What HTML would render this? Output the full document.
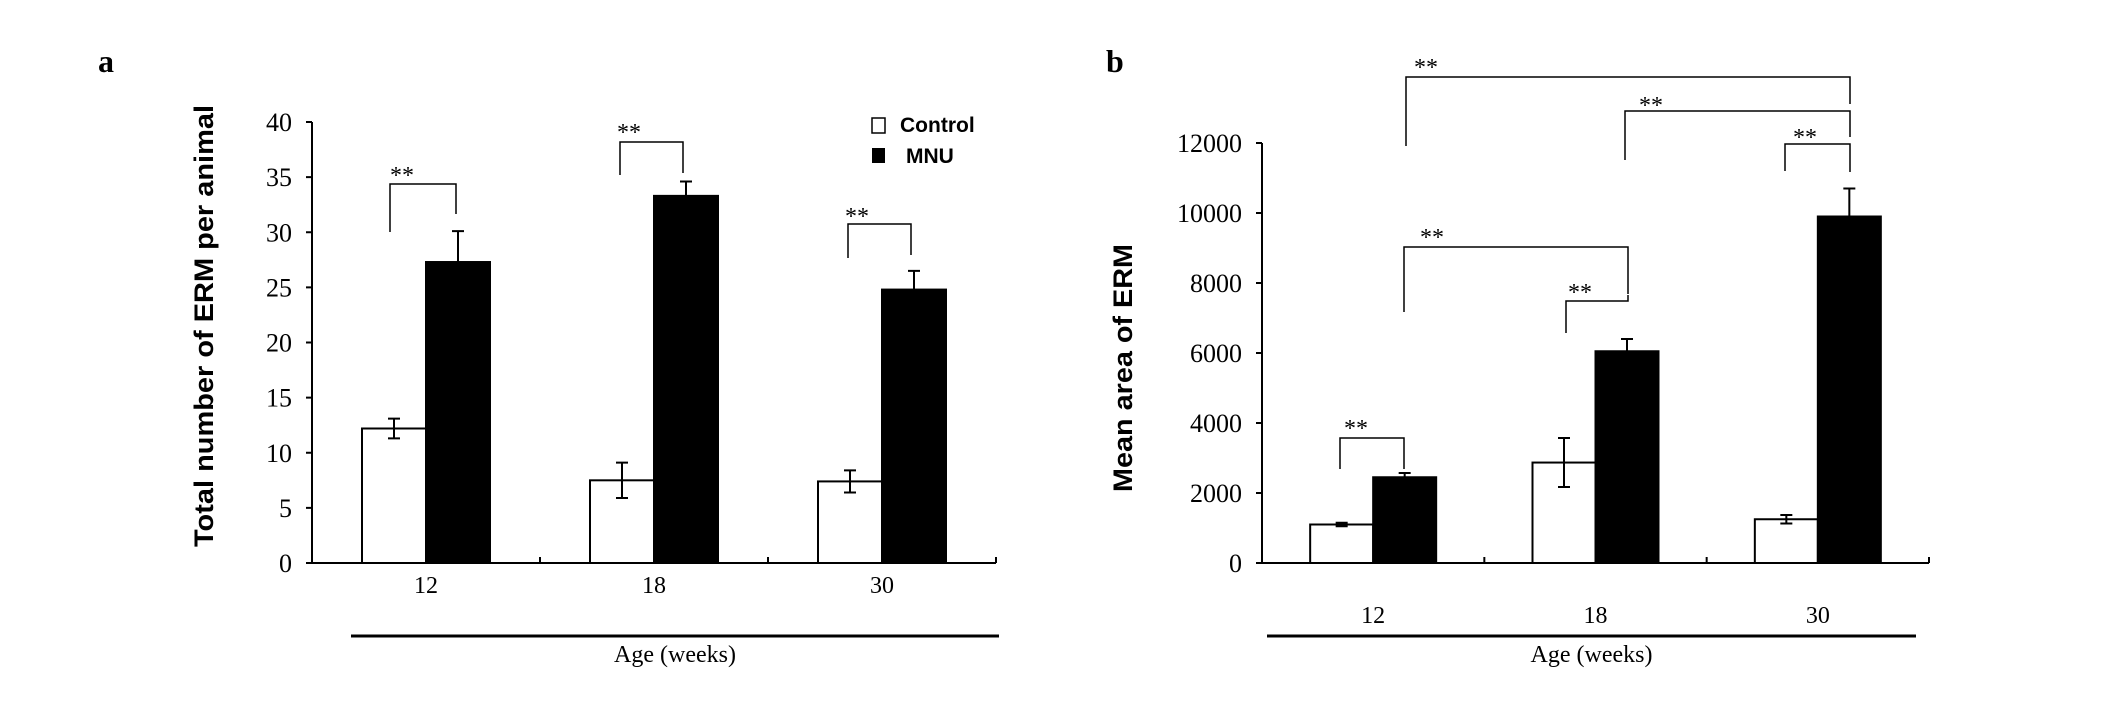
<!DOCTYPE html>
<html><head><meta charset="utf-8"><style>
html,body{margin:0;padding:0;background:#fff}
svg{display:block}
</style></head><body>
<svg id="fig" width="2126" height="711" viewBox="0 0 2126 711" xmlns="http://www.w3.org/2000/svg">
<text x="98" y="72" font-family="Liberation Serif, serif" font-weight="bold" font-size="32">a</text>
<text x="1106" y="72" font-family="Liberation Serif, serif" font-weight="bold" font-size="32">b</text>
</svg>
<script>
const categories = ['12', '18', '30'];
const aControl = [12.2, 7.5, 7.4];
const aControlErr = [0.9, 1.6, 1.0];
const aMNU = [27.3, 33.3, 24.8];
const aMNUErr = [2.8, 1.3, 1.7];
const aTicks = [0, 5, 10, 15, 20, 25, 30, 35, 40];
const bControl = [1100, 2870, 1250];
const bControlErr = [50, 700, 120];
const bMNU = [2450, 6050, 9900];
const bMNUErr = [120, 350, 800];
const bTicks = [0, 2000, 4000, 6000, 8000, 10000, 12000];

const svg = document.getElementById('fig');
const NS = 'http://www.w3.org/2000/svg';
function mk(tag, attrs, parent) {
  const e = document.createElementNS(NS, tag);
  for (const k in attrs) e.setAttribute(k, attrs[k]);
  (parent || svg).appendChild(e);
  return e;
}
function txt(x, y, s, size, extra) {
  const t = mk('text', Object.assign({x: x, y: y, 'font-family': 'Liberation Serif, serif', 'font-size': size}, extra || {}));
  t.textContent = s;
  return t;
}

function panel(p, cfg) {
  const g = mk('g', {});
  
  
  const yScale = v => cfg.y0 - (v / cfg.max) * (cfg.y0 - cfg.yTop);
  const catW = (cfg.xEnd - cfg.x0) / categories.length;
  // axes
  const ya = mk('line', {x1: cfg.x0, y1: cfg.yTop, x2: cfg.x0, y2: cfg.y0, stroke: '#000', 'stroke-width': 2}, g);
  
  
  const xa = mk('line', {x1: cfg.x0, y1: cfg.y0, x2: cfg.xEnd, y2: cfg.y0, stroke: '#000', 'stroke-width': 2}, g);
  
  
  cfg.ticks.forEach(v => {
    const y = yScale(v);
    mk('line', {x1: cfg.x0 - 6, y1: y, x2: cfg.x0, y2: y, stroke: '#000', 'stroke-width': 2}, g);
    const t = txt(cfg.x0 - 20, y + 9, String(v), 26, {'text-anchor': 'end'});
    
    
  });
  for (let i = 1; i <= categories.length; i++) {
    const x = cfg.x0 + i * catW;
    mk('line', {x1: x, y1: cfg.y0 - 6, x2: x, y2: cfg.y0, stroke: '#000', 'stroke-width': 2}, g);
  }
  categories.forEach((c, i) => {
    const cx = cfg.x0 + (i + 0.5) * catW;
    const bw = cfg.barW;
    const sets = [[cfg.ctrl, cfg.ctrlErr, cx - bw, '#fff', 'control'], [cfg.mnu, cfg.mnuErr, cx, '#000', 'mnu']];
    sets.forEach(s => {
      const v = s[0][i], e = s[1][i], x = s[2];
      const r = mk('rect', {x: x, y: yScale(v), width: bw, height: cfg.y0 - yScale(v), fill: s[3], stroke: '#000', 'stroke-width': 2}, g);
      
      
      const ex = x + bw / 2;
      const eb = mk('path', {d: 'M' + ex + ' ' + yScale(v + e) + 'V' + yScale(v - e) + 'M' + (ex - 6) + ' ' + yScale(v + e) + 'h12M' + (ex - 6) + ' ' + yScale(v - e) + 'h12', stroke: '#000', 'stroke-width': 2, fill: 'none'}, g);
      
      
    });
    const t = txt(cx, cfg.catY, c, 24, {'text-anchor': 'middle'});
    
    
  });
  const ul = mk('line', {x1: cfg.lineX1, y1: 636, x2: cfg.lineX2, y2: 636, stroke: '#000', 'stroke-width': 3}, g);
  
  
  const xt = txt((cfg.lineX1 + cfg.lineX2) / 2, 662, 'Age (weeks)', 24, {'text-anchor': 'middle'});
  
  
  const yt = txt(0, 0, cfg.yTitle, 27, {'font-family': 'Liberation Sans, sans-serif', 'font-weight': 'bold', 'text-anchor': 'middle', textLength: cfg.yTitleLen, lengthAdjust: 'spacingAndGlyphs', transform: 'translate(' + cfg.yTitleX + ',' + cfg.yTitleY + ') rotate(-90)'});
  
  
  cfg.brackets.forEach(b => {
    const br = mk('path', {d: 'M' + b[0] + ' ' + b[1] + 'V' + b[2] + 'H' + b[3] + 'V' + b[4], stroke: '#000', 'stroke-width': 1.5, fill: 'none'}, g);
    
    
    const st = txt(b[5], b[6], '**', 24);
    
    
  });
}

panel('a', {x0: 312, xEnd: 996, y0: 563, yTop: 122, max: 40, ticks: aTicks, barW: 64,
  ctrl: aControl, ctrlErr: aControlErr, mnu: aMNU, mnuErr: aMNUErr, catY: 593,
  lineX1: 351, lineX2: 999, yTitle: 'Total number of ERM per animal', yTitleLen: 442, yTitleX: 213, yTitleY: 326,
  brackets: [[390, 232, 184, 456, 214, 390, 183], [620, 175, 142, 683, 173, 617, 140], [848, 258, 224, 911, 255, 845, 224]]});
panel('b', {x0: 1262, xEnd: 1929, y0: 563, yTop: 143, max: 12000, ticks: bTicks, barW: 63,
  ctrl: bControl, ctrlErr: bControlErr, mnu: bMNU, mnuErr: bMNUErr, catY: 623,
  lineX1: 1267, lineX2: 1916, yTitle: 'Mean area of ERM', yTitleLen: 248, yTitleX: 1132, yTitleY: 368,
  brackets: [[1406, 146, 77, 1850, 104, 1414, 75], [1625, 160, 111, 1850, 137, 1639, 113], [1785, 171, 144, 1850, 172, 1793, 145],
             [1404, 312, 247, 1628, 294, 1420, 245], [1566, 333, 301, 1628, 295, 1568, 300], [1340, 469, 438, 1404, 469, 1344, 436]]});

// legend
const lg = mk('g', {});


const s1 = mk('rect', {x: 872, y: 118, width: 13, height: 15, fill: '#fff', stroke: '#000', 'stroke-width': 1.5}, lg);


const l1 = txt(900, 132, 'Control', 21, {'font-family': 'Liberation Sans, sans-serif', 'font-weight': 'bold'});


const s2 = mk('rect', {x: 872, y: 148, width: 13, height: 15, fill: '#000'}, lg);


const l2 = txt(906, 163, 'MNU', 21, {'font-family': 'Liberation Sans, sans-serif', 'font-weight': 'bold'});


</script>
</body></html>
